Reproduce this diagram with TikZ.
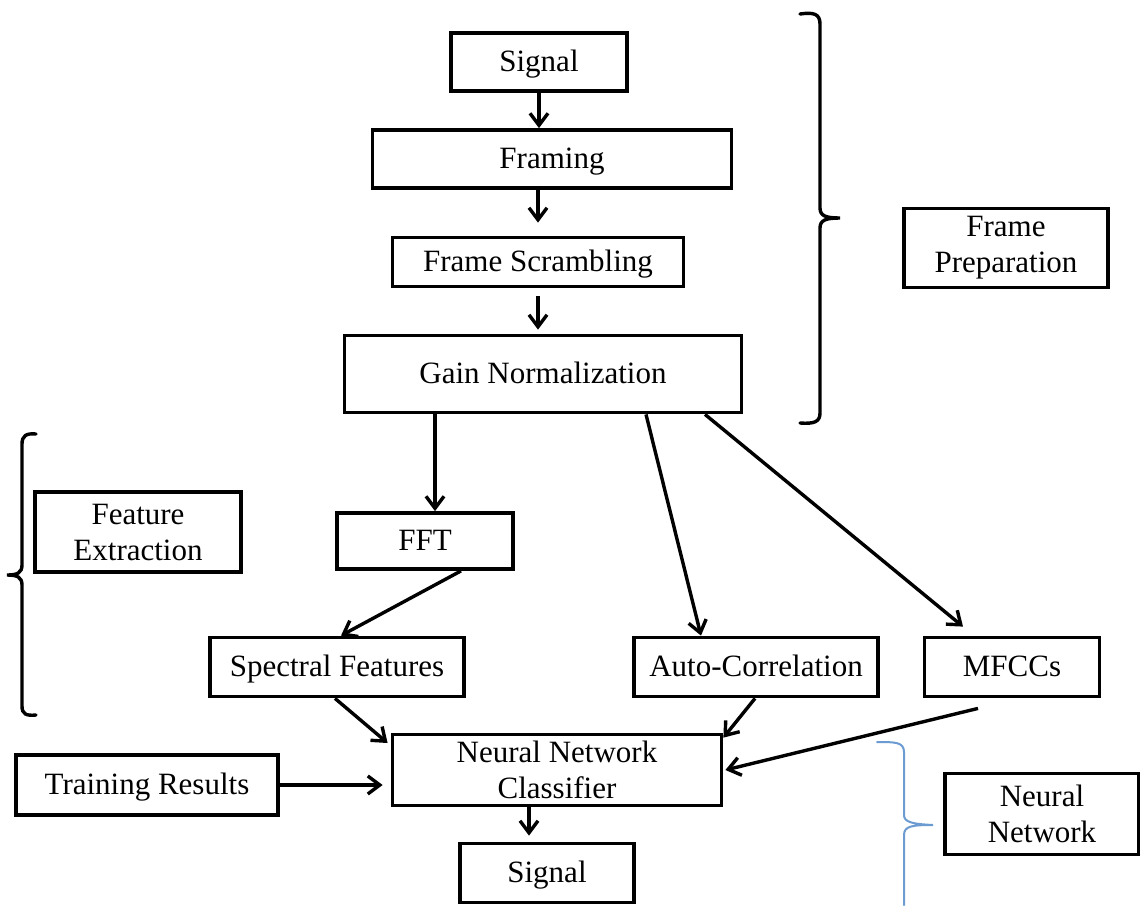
\documentclass[tikz,border=0pt]{standalone}
\usepackage{fontspec}
\setmainfont{Liberation Serif}
\usetikzlibrary{arrows.meta}
\definecolor{braceblue}{RGB}{108,155,210}
\tikzset{
  box/.style={draw=black, line width=1.9pt, fill=white, inner sep=0pt, align=center,
    font=\fontsize{15.5}{18}\selectfont},
  oneline/.style={text height=10.5pt, text depth=1pt},
  arr/.style={draw=black, line width=1.7pt, -{Straight Barb[length=6pt,width=9pt,line width=1.7pt]}},
  brace/.style={draw=black, line width=1.7pt, line cap=round},
  bluebrace/.style={draw=braceblue, line width=1pt, line cap=round}
}
\begin{document}
\begin{tikzpicture}[x=0.5pt,y=-0.5pt]
\useasboundingbox (0,0) rectangle (1140,905);
% nodes
\node[box, oneline, minimum width=88pt, minimum height=29pt] (sig1) at (539,62) {Signal};
\node[box, oneline, minimum width=179.5pt, minimum height=29pt] (framing) at (552,159) {Framing};
\node[box, oneline, minimum width=145.5pt, minimum height=24.5pt] (scr) at (538,262) {Frame Scrambling};
\node[box, oneline, minimum width=198.5pt, minimum height=38.5pt] (gain) at (543,374) {Gain Normalization};
\node[box, minimum width=102pt, minimum height=39.5pt] (fp) at (1006,248) {Frame\\Preparation};
\node[box, minimum width=103pt, minimum height=40pt] (fe) at (138,532) {Feature\\Extraction};
\node[box, oneline, minimum width=88pt, minimum height=28pt] (fft) at (425,541) {FFT};
\node[box, oneline, minimum width=127pt, minimum height=29.5pt] (spec) at (337,667) {Spectral Features};
\node[box, oneline, minimum width=122pt, minimum height=29.5pt] (auto) at (756,667) {Auto-Correlation};
\node[box, oneline, minimum width=87.5pt, minimum height=29.5pt] (mfcc) at (1012,667) {MFCCs};
\node[box, minimum width=164.5pt, minimum height=35.5pt] (nnc) at (557,770) {Neural Network\\Classifier};
\node[box, oneline, minimum width=131pt, minimum height=30pt] (train) at (147,785) {Training Results};
\node[box, minimum width=97pt, minimum height=40.5pt] (nn) at (1042,814) {Neural\\Network};
\node[box, oneline, minimum width=87pt, minimum height=29.5pt] (sig2) at (547,873) {Signal};
% arrows
\draw[arr] (sig1.south) -- (sig1.south |- framing.north);
\draw[arr, shorten >=6.5pt] (scr.north |- framing.south) -- (scr.north);
\draw[arr, shorten <=4pt, shorten >=2pt] (scr.south) -- (scr.south |- gain.north);
\draw[arr] ([xshift=5pt]fft.north |- gain.south) -- ([xshift=5pt]fft.north);
\draw[arr] ([xshift=51.5pt]gain.south) -- ([xshift=-27.5pt]auto.north);
\draw[arr] ([xshift=81pt]gain.south) -- ([xshift=-24.5pt,yshift=4.5pt]mfcc.north);
\draw[arr] ([xshift=18pt]fft.south) -- ([xshift=2pt]spec.north);
\draw[arr] ([xshift=-1pt]spec.south) -- ([xshift=-1.5pt,yshift=13.5pt]nnc.west);
\draw[arr] ([xshift=-0.5pt]auto.south) -- ([yshift=-2.5pt]nnc.north east);
\draw[arr] ([xshift=-17pt,yshift=-5pt]mfcc.south) -- ([xshift=1pt]nnc.east);
\draw[arr, shorten >=4pt] (train.east) -- (train.east -| nnc.west);
\draw[arr, shorten >=3pt] ([xshift=-14pt]nnc.south) -- ([xshift=-14pt]nnc.south |- sig2.north);
% braces
\draw[brace] (800,14) .. controls (814,12) and (820,14) .. (820,24) -- (820,208)
  .. controls (820,216) and (826,218) .. (840,218)
  .. controls (826,218) and (820,220) .. (820,228) -- (820,413)
  .. controls (820,422) and (814,424) .. (800,423);
\draw[brace] (36,434) .. controls (26,433) and (22,436) .. (22,444) -- (22,565)
  .. controls (22,573) and (17,575) .. (7,575)
  .. controls (17,575) and (22,577) .. (22,585) -- (22,706)
  .. controls (22,714) and (26,716) .. (36,715);
\draw[bluebrace] (877,742) .. controls (895,742) and (904,742) .. (904,752) -- (904,815)
  .. controls (904,822) and (912,824) .. (933,825)
  .. controls (912,825) and (904,826) .. (904,835) -- (904,905);
\end{tikzpicture}
\end{document}
